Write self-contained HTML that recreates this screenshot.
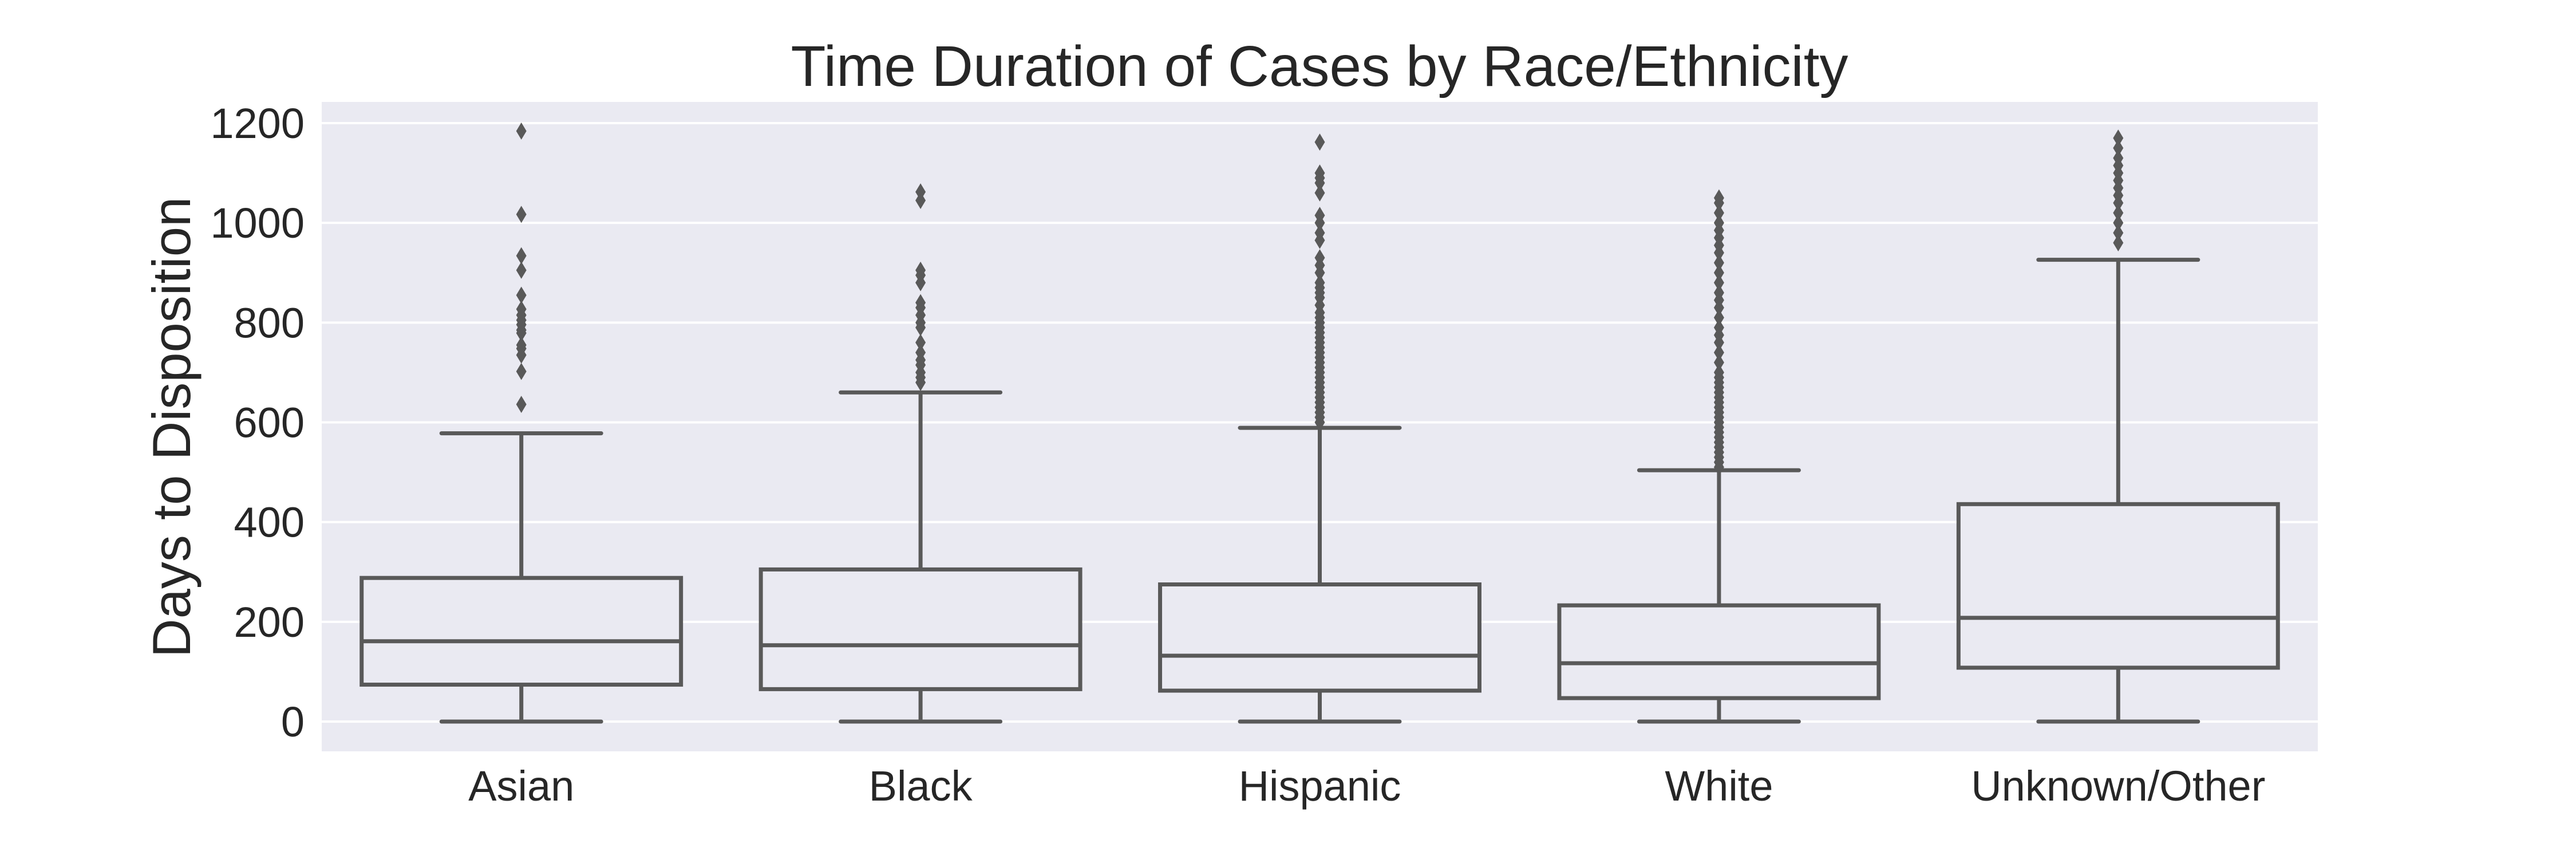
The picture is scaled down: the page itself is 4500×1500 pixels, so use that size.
<!DOCTYPE html>
<html><head><meta charset="utf-8"><style>
html,body{margin:0;padding:0;background:#fff;}
svg{display:block;font-family:"Liberation Sans",sans-serif;}
</style></head><body>
<svg id="chart" width="4500" height="1500" viewBox="0 0 4500 1500" xmlns="http://www.w3.org/2000/svg">
<rect x="562" y="178" width="3487" height="1134" fill="#eaeaf2"/>
<g id="grid"></g>
<g id="boxes"></g>
<g id="yticks"></g>
<g id="xticks"></g>
<text x="2305" y="150" text-anchor="middle" font-size="100" fill="#262626">Time Duration of Cases by Race/Ethnicity</text>
<text transform="translate(332,746) rotate(-90)" text-anchor="middle" font-size="94" fill="#262626">Days to Disposition</text>
</svg>
<script>
const categories = ["Asian","Black","Hispanic","White","Unknown/Other"];
const q1Values = [74, 65, 62, 47, 108];
const medianValues = [161, 153, 132, 117, 208];
const q3Values = [288, 305, 275, 233, 436];
const whiskerLow = [0, 0, 0, 0, 0];
const whiskerHigh = [578, 660, 589, 504, 926];
const outliersAsian = [1184,1017,934,905,855,827,815,805,796,785,779,755,748,735,702,636];
const outliersBlack = [1062,1045,905,895,880,840,830,815,800,790,760,740,725,715,700,690,680];
const outliersHispanic = [1162,1100,1090,1080,1060,1015,1000,980,965,930,915,900,880,870,860,850,835,820,810,800,790,780,770,760,750,740,730,720,710,700,690,680,670,660,650,640,630,620,610,600];
const outliersWhite = [1050,1040,1020,1000,985,970,955,940,920,900,880,860,845,830,810,790,775,760,740,720,700,690,680,670,660,650,640,630,620,610,600,590,580,570,560,550,540,530,520,510];
const outliersUnknown = [1170,1150,1130,1115,1100,1085,1070,1055,1040,1020,1000,980,960];
const outlierSets = [outliersAsian,outliersBlack,outliersHispanic,outliersWhite,outliersUnknown];
const yTicks = [0,200,400,600,800,1000,1200];

const NS="http://www.w3.org/2000/svg";
const plotL=562, plotW=3487, y0=1260, yScale=1045/1200;
const yPos=v=>y0-v*yScale;
const band=plotW/categories.length;
const xPos=i=>plotL+band*(i+0.5);
const col="#595959", lw=7;
function mk(tag,attrs,parent){const e=document.createElementNS(NS,tag);for(const k in attrs)e.setAttribute(k,attrs[k]);parent.appendChild(e);return e;}
const grid=document.getElementById('grid'), boxes=document.getElementById('boxes'), yt=document.getElementById('yticks'), xt=document.getElementById('xticks');
yTicks.forEach(t=>{
  const l=mk('line',{x1:plotL,x2:plotL+plotW,y1:yPos(t),y2:yPos(t),stroke:'#ffffff','stroke-width':4},grid);
  
  
  const tx=mk('text',{x:532,y:yPos(t)+26,'text-anchor':'end','font-size':74,fill:'#262626'},yt);
  tx.textContent=t;
  
  
});
categories.forEach((c,i)=>{
  const cx=xPos(i), bw=band*0.8, cw=band*0.2;
  const g=mk('g',{},boxes);
  
  
  mk('line',{x1:cx,x2:cx,y1:yPos(q3Values[i]),y2:yPos(whiskerHigh[i]),stroke:col,'stroke-width':lw},g);
  mk('line',{x1:cx,x2:cx,y1:yPos(q1Values[i]),y2:yPos(whiskerLow[i]),stroke:col,'stroke-width':lw},g);
  mk('line',{x1:cx-cw,x2:cx+cw,y1:yPos(whiskerHigh[i]),y2:yPos(whiskerHigh[i]),stroke:col,'stroke-width':lw,'stroke-linecap':'round'},g);
  mk('line',{x1:cx-cw,x2:cx+cw,y1:yPos(whiskerLow[i]),y2:yPos(whiskerLow[i]),stroke:col,'stroke-width':lw,'stroke-linecap':'round'},g);
  mk('rect',{x:cx-bw/2,y:yPos(q3Values[i]),width:bw,height:yPos(q1Values[i])-yPos(q3Values[i]),fill:'#eaeaf2',stroke:col,'stroke-width':lw},g);
  mk('line',{x1:cx-bw/2,x2:cx+bw/2,y1:yPos(medianValues[i]),y2:yPos(medianValues[i]),stroke:col,'stroke-width':lw},g);
  outlierSets[i].forEach(v=>{
    const y=yPos(v);
    const p=mk('polygon',{points:`${cx},${y-15} ${cx+9},${y} ${cx},${y+15} ${cx-9},${y}`,fill:col},g);
    
    
  });
  const tx=mk('text',{x:cx,y:1398,'text-anchor':'middle','font-size':74,fill:'#262626'},xt);
  tx.textContent=c;
  
  
});
</script>
</body></html>
